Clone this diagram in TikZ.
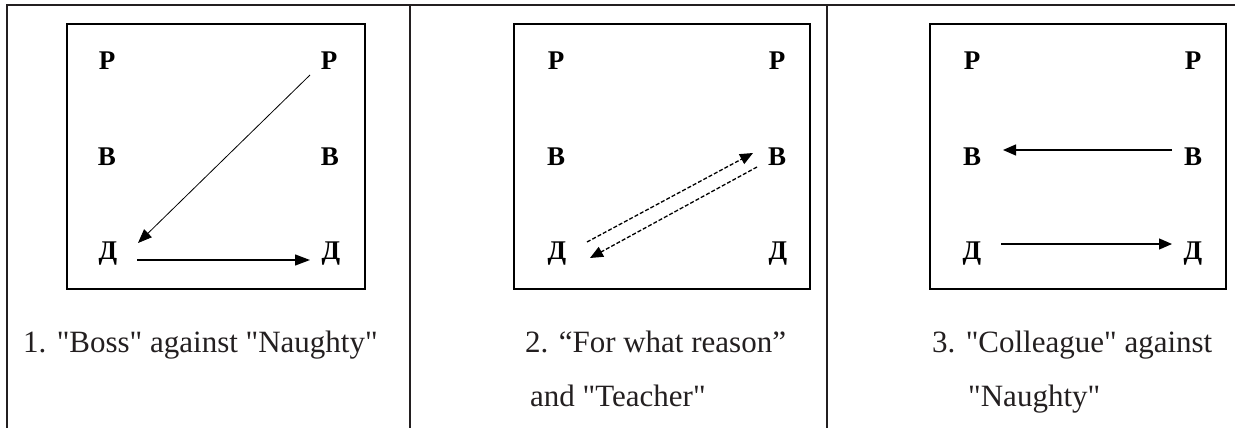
\documentclass[tikz,border=0pt]{standalone}
\usepackage{fontspec}
\setmainfont{Liberation Serif}
\usetikzlibrary{arrows.meta,calc}
\definecolor{ink}{HTML}{231F20}
\newcommand\dq{\XeTeXglyph\XeTeXglyphindex"quotedbl"\relax}
\tikzset{
  letter/.style={inner sep=0pt, anchor=base, font=\fontsize{27}{27}\selectfont\bfseries},
  caption/.style={inner sep=0pt, anchor=base west, text=ink, font=\fontsize{31}{31}\selectfont},
  frame/.style={draw=ink, line width=2pt},
  inbox/.style={draw=black, line width=2pt},
  arr/.style={line width=1.3pt, -{Triangle[length=15pt,width=11pt]}},
  arrs/.style={line width=1.3pt, -{Triangle[length=13pt,width=11pt]}},
  arrd/.style={line width=0.8pt, -{Triangle[length=14pt,width=11pt]}},
  arrdash/.style={line width=1.3pt, dash pattern=on 4pt off 2pt, -{Triangle[length=13pt,width=11pt]}}
}
\begin{document}
\begin{tikzpicture}[x=1pt,y=-1pt]
\useasboundingbox (0,0) rectangle (1235,428);
% table lines
\draw[frame] (7,428) -- (7,5) -- (1235,5);
\draw[frame] (410,5) -- (410,428);
\draw[frame] (827,5) -- (827,428);
% inner boxes
\draw[inbox] (67,24) rectangle (365,289);
\draw[inbox] (514,24) rectangle (810,289);
\draw[inbox] (930,24) rectangle (1226,289);
% panel 1
\node[letter] (P1l) at (107,70) {Р};
\node[letter] (P1r) at (329,70) {Р};
\node[letter] (B1l) at (107,165) {В};
\node[letter] (B1r) at (330,165) {В};
\node[letter] (D1l) at (108,259) {Д};
\node[letter] (D1r) at (331,259) {Д};
\draw[arrd] ($(P1r.base)+(-19,5)$) -- ($(D1l.base)+(30,-16)$);
\draw[arr] ($(D1l.base)+(29,1)$) -- ($(D1r.base)+(-21,1)$);
% panel 2
\node[letter] (P2l) at (556,70) {Р};
\node[letter] (P2r) at (777,70) {Р};
\node[letter] (B2l) at (556,165) {В};
\node[letter] (B2r) at (777,165) {В};
\node[letter] (D2l) at (557,259) {Д};
\node[letter] (D2r) at (778,259) {Д};
\draw[arrdash] ($(D2l.base)+(30,-17)$) -- ($(B2r.base)+(-24,-12)$);
\draw[arrdash] ($(B2r.base)+(-20,2)$) -- ($(D2l.base)+(33,-1)$);
% panel 3
\node[letter] (P3l) at (972,70) {Р};
\node[letter] (P3r) at (1193,70) {Р};
\node[letter] (B3l) at (972,165) {В};
\node[letter] (B3r) at (1193,165) {В};
\node[letter] (D3l) at (972,259) {Д};
\node[letter] (D3r) at (1193,259) {Д};
\draw[arrs] ($(B3r.base)+(-21,-15)$) -- ($(B3l.base)+(31,-15)$);
\draw[arrs] ($(D3l.base)+(29,-15)$) -- ($(D3r.base)+(-21,-15)$);
% captions
\node[caption] (c1) at (23,352) {1. \dq Boss\dq{} against \dq Naughty\dq};
\node[caption] (c2a) at (525,352) {2. “For what reason”};
\node[caption] (c2b) at (530,406) {and \dq Teacher\dq};
\node[caption] (c3a) at (932,352) {3. \dq Colleague\dq{} against};
\node[caption] (c3b) at (968,406) {\dq Naughty\dq};
\end{tikzpicture}
\end{document}
